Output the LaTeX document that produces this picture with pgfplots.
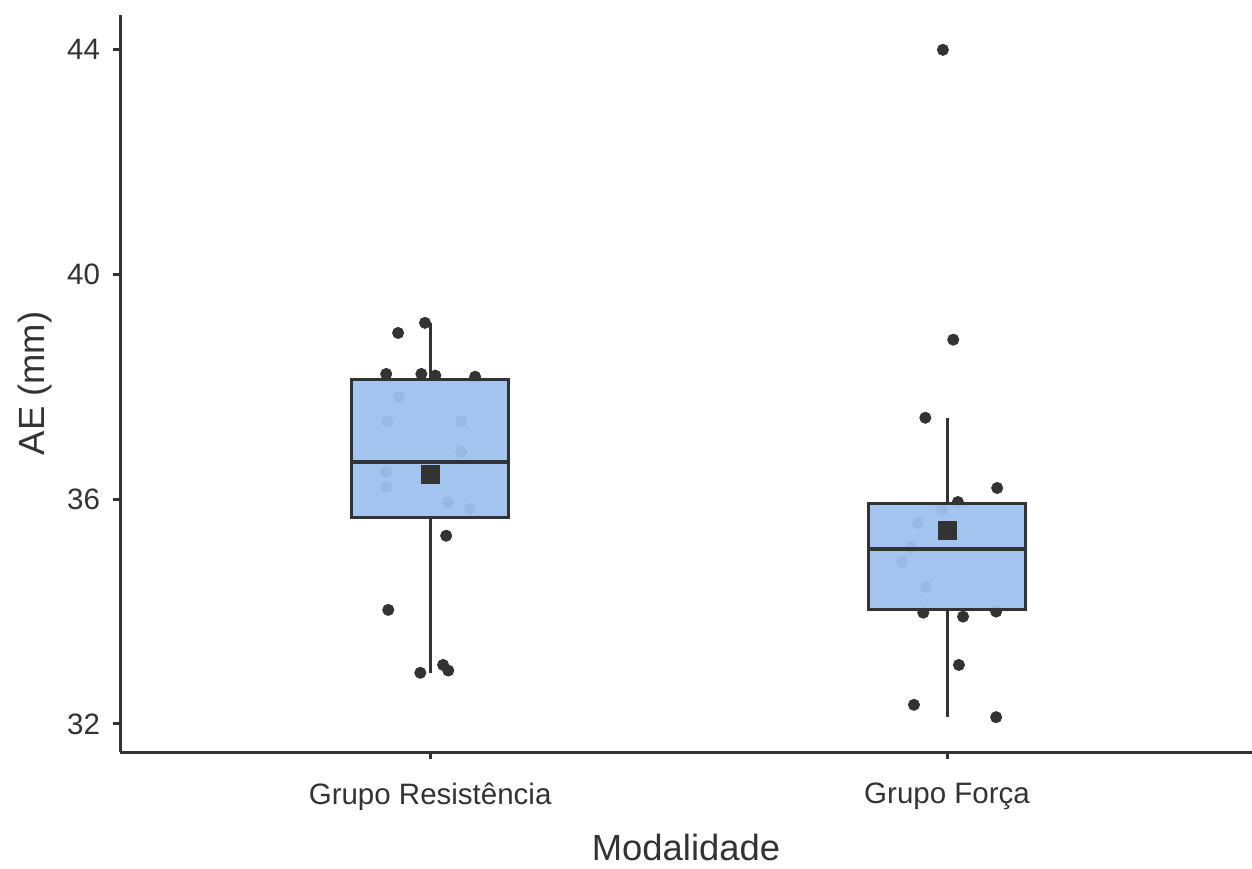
\documentclass[border=0pt]{standalone}
\usepackage{pgfplots}
\pgfplotsset{compat=1.18}
\usetikzlibrary{calc}
\usepackage{fontspec}
\setmainfont{Liberation Sans}
\definecolor{boxfill}{RGB}{159,193,239}
\definecolor{ink}{RGB}{51,51,51}

\begin{document}
\begin{tikzpicture}
\begin{axis}[
  set layers=standard,
  scale only axis, width=566pt, height=368.5pt,
  xmin=0.4, xmax=2.59, ymin=31.5, ymax=44.62,
  axis x line*=bottom, axis y line*=left,
  axis line style={ink, line width=1.5pt, -},
  xtick={1,2}, xticklabels={Grupo Resistência, Grupo Força},
  ytick={32,36,40,44},
  tick align=outside, major tick length=3.5pt,
  tick style={ink, line width=1.5pt},
  ticklabel style={font=\fontsize{14.75}{16}\selectfont, text=ink},
  xticklabel style={yshift=-8.5pt},
  yticklabel style={xshift=-3pt},
  /pgf/number format/assume math mode=true,
  xlabel={Modalidade}, ylabel={AE (mm)},
  label style={font=\fontsize{18.2}{20}\selectfont, text=ink},
  xlabel style={at={(axis description cs:0.5,-0.1289)}, anchor=center},
  ylabel style={at={(axis description cs:-0.0751,0.5)}, anchor=center},
  clip=false,
  boxline/.style={ink, line width=1.5pt, line join=miter, mark=none},
  jitter/.style={only marks, mark=*, mark size=2.8pt, ink,
    on layer=axis background, mark layer=axis background},
]
% jittered observations, Grupo Resistencia
\addplot[jitter] coordinates {
  (0.938,38.96) (0.990,39.14) (0.915,38.23) (0.983,38.23) (1.010,38.20)
  (1.087,38.18) (1.031,35.35) (0.919,34.03) (0.981,32.91) (1.025,33.05)
  (1.035,32.95) (0.940,37.82) (0.917,37.38) (1.060,37.38) (1.060,36.84)
  (0.915,36.49) (0.915,36.22) (1.035,35.94) (1.077,35.83)
};
% jittered observations, Grupo Forca
\addplot[jitter] coordinates {
  (1.992,44.00) (2.012,38.84) (1.958,37.45) (2.097,36.20) (2.021,35.95)
  (1.954,33.98) (2.031,33.91) (2.095,34.00) (2.023,33.05) (1.936,32.34)
  (2.095,32.12) (1.990,35.81) (1.944,35.58) (1.931,35.15) (1.913,34.88)
  (1.959,34.44)
};
% whiskers
\addplot[boxline] coordinates {(1,32.91) (1,35.67)};
\addplot[boxline] coordinates {(1,38.14) (1,39.14)};
\addplot[boxline] coordinates {(2,32.12) (2,34.03)};
\addplot[boxline] coordinates {(2,35.92) (2,37.45)};
% boxes (quartiles)
\addplot[boxline, fill=boxfill, fill opacity=0.95] coordinates {
  (0.8475,35.67) (1.1525,35.67) (1.1525,38.14) (0.8475,38.14) (0.8475,35.67)
} -- cycle;
\addplot[boxline, fill=boxfill, fill opacity=0.95] coordinates {
  (1.8475,34.03) (2.1525,34.03) (2.1525,35.92) (1.8475,35.92) (1.8475,34.03)
} -- cycle;
% medians
\addplot[boxline, line width=2pt] coordinates {(0.8475,36.67) (1.1525,36.67)};
\addplot[boxline, line width=2pt] coordinates {(1.8475,35.12) (2.1525,35.12)};
% means
\addplot[only marks, mark=square*, mark size=4.5pt, ink] coordinates {
  (1,36.45) (2,35.45)
};
\end{axis}
\pgfresetboundingbox
\path[use as bounding box] ($(current axis.south west)+(-60pt,-58pt)$)
  rectangle ($(current axis.north east)+(0pt,7.5pt)$);
\end{tikzpicture}
\end{document}
